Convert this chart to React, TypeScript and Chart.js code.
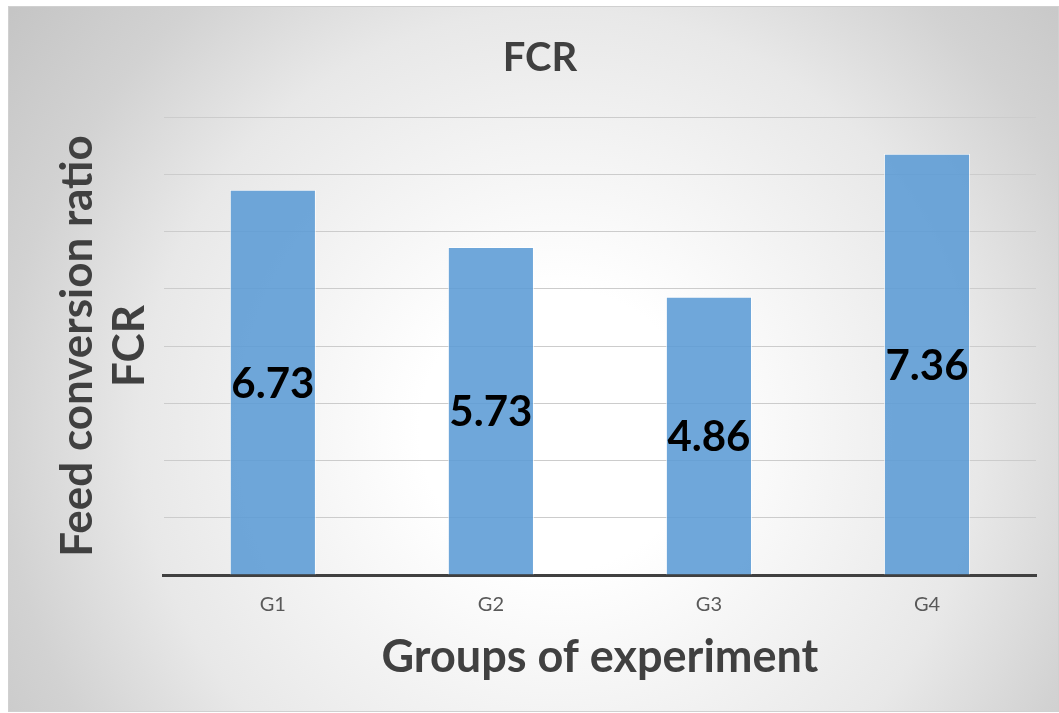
import React, { useEffect, useRef } from "react";
import { Chart, registerables } from "chart.js";

Chart.register(...registerables);

// ---- data ----
const categories = ["G1", "G2", "G3", "G4"];
const fcrValues = [6.73, 5.73, 4.86, 7.36];
const valueLabels = ["6.73", "5.73", "4.86", "7.36"];
const yMin = 0;
const yMax = 8;
const yStep = 1;
const chartTitle = "FCR";
const xAxisTitle = "Groups of experiment";
const yAxisTitle = ["Feed conversion ratio", "FCR"];

const FONT = 'Lato, "Open Sans", "DejaVu Sans", sans-serif';

const backgroundPlugin = {
  id: "excelBackground",
  beforeDraw(chart: any) {
    const { ctx, width, height } = chart;
    ctx.save();
    const cx = width * 0.525;
    const cy = height * 0.6;
    const r = 700;
    const g = ctx.createRadialGradient(cx, cy, 0, cx, cy, r);
    g.addColorStop(0, "#ffffff");
    g.addColorStop(0.2, "#ffffff");
    g.addColorStop(0.6, "#e8e8e8");
    g.addColorStop(0.8, "#d2d2d2");
    g.addColorStop(1, "#c4c4c4");
    ctx.fillStyle = g;
    ctx.fillRect(0, 0, width, height);
    ctx.strokeStyle = "#d0d0d0";
    ctx.lineWidth = 1;
    ctx.strokeRect(0.5, 0.5, width - 1, height - 1);
    ctx.restore();
  },
};

const valueLabelPlugin = {
  id: "valueLabels",
  afterDatasetsDraw(chart: any) {
    const { ctx } = chart;
    const meta = chart.getDatasetMeta(0);
    ctx.save();
    ctx.font = `bold 42px ${FONT}`;
    ctx.fillStyle = "#000000";
    ctx.textAlign = "center";
    ctx.textBaseline = "alphabetic";
    const asc = ctx.measureText("0").actualBoundingBoxAscent;
    meta.data.forEach((bar: any, i: number) => {
      const { x, y, base } = bar.getProps(["x", "y", "base"], true);
      const mid = (y + base) / 2;
      ctx.fillText(valueLabels[i], x, mid + asc / 2);
    });
    ctx.restore();
  },
};

export default function App() {
  const ref = useRef<HTMLCanvasElement | null>(null);

  useEffect(() => {
    if (!ref.current) return;
    const chart = new Chart(ref.current, {
      type: "bar",
      data: {
        labels: categories,
        datasets: [
          {
            label: chartTitle,
            data: fcrValues,
            backgroundColor: "rgba(91,155,213,0.88)",
            borderColor: "rgba(255,255,255,0.7)",
            borderWidth: 1,
            barPercentage: 0.395,
            categoryPercentage: 1,
          },
        ],
      },
      options: {
        responsive: false,
        animation: false,
        layout: { padding: { left: 36, right: 23, top: 20, bottom: 14 } },
        plugins: {
          legend: { display: false },
          tooltip: { enabled: false },
          title: {
            display: true,
            text: chartTitle,
            color: "#404040",
            font: { family: FONT, size: 40, weight: "bold", lineHeight: 1.2 },
            padding: { top: 8, bottom: 35 },
          },
        },
        scales: {
          x: {
            grid: { display: false, drawTicks: false },
            border: { display: true, color: "#404040", width: 3 },
            ticks: { color: "#595959", font: { family: FONT, size: 20 }, padding: 18 },
            title: {
              display: true,
              text: xAxisTitle,
              color: "#404040",
              font: { family: FONT, size: 45, weight: "bold", lineHeight: 1.0 },
              padding: { top: 0, bottom: 18 },
            },
          },
          y: {
            min: yMin,
            max: yMax,
            ticks: { display: false, stepSize: yStep },
            grid: { color: "#cccccc", drawTicks: false, lineWidth: 1 },
            border: { display: false },
            title: {
              display: true,
              text: yAxisTitle,
              color: "#404040",
              font: { family: FONT, size: 44, weight: "bold", lineHeight: 1.18 },
              padding: { top: 8, bottom: 8 },
            },
          },
        },
      },
      plugins: [backgroundPlugin, valueLabelPlugin],
    });
    return () => chart.destroy();
  }, []);

  return (
    <div style={{ position: "absolute", left: 8, top: 6, width: 1051, height: 706 }}>
      <canvas ref={ref} width={1051} height={706} style={{ display: "block" }} />
    </div>
  );
}
